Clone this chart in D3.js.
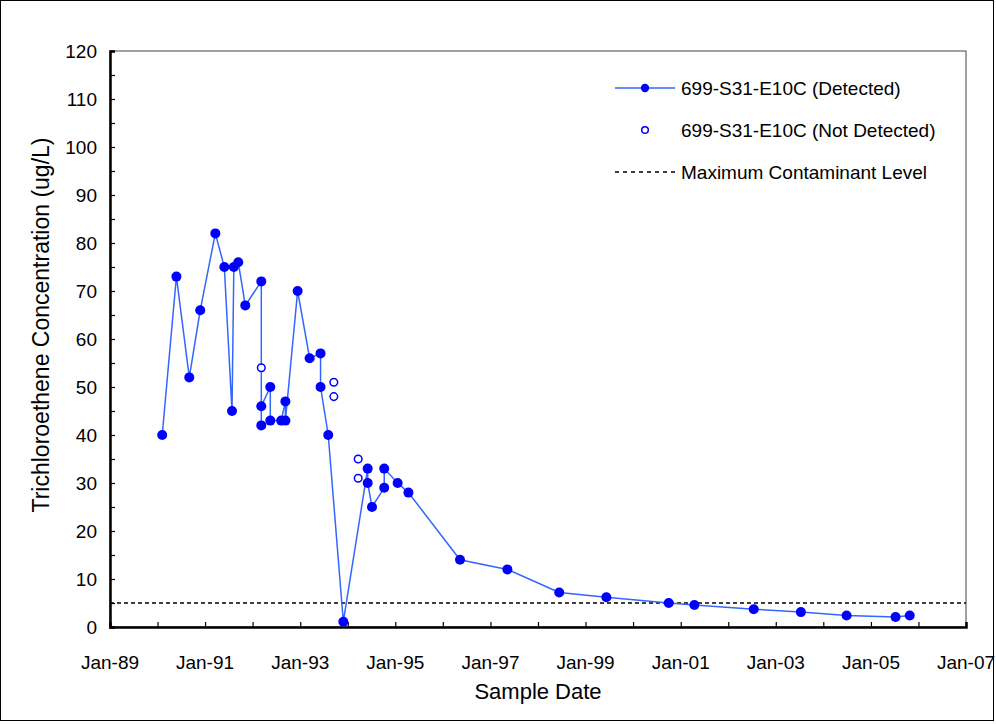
<!DOCTYPE html>
<html>
<head>
<meta charset="utf-8">
<script src="https://cdn.jsdelivr.net/npm/d3@7"></script>
<style>
  body { margin: 0; background: #fff; }
  text { font-family: "Liberation Sans", Arial, sans-serif; fill: #000; }
</style>
</head>
<body>
<div id="chart"></div>
<script>
// detected samples (line + filled markers)
var detectedDates = ["1990-02-06","1990-05-26","1990-09-02","1990-11-25","1991-03-21","1991-05-29",
  "1991-07-27","1991-08-10","1991-09-13","1991-11-06","1992-03-08","1992-03-08","1992-03-08",
  "1992-05-16","1992-05-16","1992-08-08","1992-09-09","1992-09-09","1992-12-12","1993-03-14",
  "1993-06-06","1993-06-06","1993-08-04","1993-11-28","1994-06-03","1994-06-03","1994-07-06",
  "1994-10-08","1994-10-08","1995-01-19","1995-04-12","1996-05-12","1997-05-11","1998-06-13",
  "1999-06-10","2000-10-01","2001-04-16","2002-07-16","2003-07-13","2004-06-28","2005-07-09",
  "2005-10-26"];
var detectedValues = [40, 73, 52, 66, 82, 75, 45, 75, 76, 67, 72, 42, 46, 50, 43, 43, 47, 43, 70, 56,
  57, 50, 40, 1.1, 33, 30, 25, 29, 33, 30, 28, 14, 12, 7.2, 6.2, 5, 4.6, 3.7, 3.1, 2.4, 2.1, 2.4];

// not detected samples (open markers)
var ndDates = ["1992-03-08","1993-09-16","1993-09-16","1994-03-22","1994-03-22"];
var ndValues = [54, 51, 48, 35, 31];

var mcl = 5;
var yTicks = [0, 10, 20, 30, 40, 50, 60, 70, 80, 90, 100, 110, 120];
var xLabelYears = [1989, 1991, 1993, 1995, 1997, 1999, 2001, 2003, 2005, 2007];
var legendLabels = ["699-S31-E10C (Detected)", "699-S31-E10C (Not Detected)", "Maximum Contaminant Level"];

var width = 996, height = 725;
var parse = d3.timeParse("%Y-%m-%d");

var detected = detectedDates.map(function (d, i) { return { date: parse(d), value: detectedValues[i] }; });
var notDetected = ndDates.map(function (d, i) { return { date: parse(d), value: ndValues[i] }; });

var x = d3.scaleTime()
  .domain([new Date(1989, 0, 1), new Date(2007, 0, 1)])
  .range([110, 966]);
var y = d3.scaleLinear()
  .domain([0, 120])
  .range([627, 51]);

var svg = d3.select('#chart').append('svg')
  .attr('width', width)
  .attr('height', height);

// outer border of the picture
svg.append('rect')
  .attr('x', 0.5).attr('y', 0.5)
  .attr('width', width - 3).attr('height', height - 5)
  .attr('fill', '#fff')
  .attr('stroke', '#000');

// plot frame
svg.append('rect')
  .attr('x', x.range()[0]).attr('y', y(120))
  .attr('width', x.range()[1] - x.range()[0]).attr('height', y(0) - y(120))
  .attr('fill', 'none')
  .attr('stroke', '#444')
  .attr('stroke-width', 1);

// y axis, ticks every 5 pointing inwards
var yAxis = d3.axisRight(y).tickValues(d3.range(0, 121, 5)).tickSize(5).tickFormat('');
svg.append('g')
  .attr('transform', 'translate(' + x.range()[0] + ',0)')
  .call(yAxis)
  .call(function (g) { g.select('.domain').attr('stroke-width', 2.5); })
  .selectAll('.tick line').attr('stroke-width', 1.2);

svg.append('g').selectAll('text')
  .data(yTicks)
  .enter()
  .append('text')
  .attr('x', 97)
  .attr('y', function (d) { return y(d); })
  .attr('dy', '0.36em')
  .attr('text-anchor', 'end')
  .style('font-size', '19px')
  .text(function (d) { return d; });

// x axis, yearly ticks pointing inwards, labels every 2 years
var xAxis = d3.axisTop(x).ticks(d3.timeYear.every(1)).tickSize(5).tickFormat('');
svg.append('g')
  .attr('transform', 'translate(0,' + y(0) + ')')
  .call(xAxis)
  .call(function (g) { g.select('.domain').attr('stroke-width', 2.5); })
  .selectAll('.tick line').attr('stroke-width', 1.2);

var fmt = d3.timeFormat('%b-%y');
svg.append('g').selectAll('text')
  .data(xLabelYears.map(function (yr) { return new Date(yr, 0, 1); }))
  .enter()
  .append('text')
  .attr('x', function (d) { return x(d); })
  .attr('y', 669)
  .attr('text-anchor', 'middle')
  .style('font-size', '19px')
  .text(function (d) { return fmt(d); });

// axis titles
svg.append('text')
  .attr('x', 538).attr('y', 699)
  .attr('text-anchor', 'middle')
  .style('font-size', '22px')
  .text('Sample Date');

svg.append('text')
  .attr('transform', 'translate(49,' + 325 + ') rotate(-90)')
  .attr('text-anchor', 'middle')
  .style('font-size', '23px')
  .text('Trichloroethene Concentration (ug/L)');

// MCL
svg.append('line')
  .attr('x1', x.range()[0]).attr('x2', x.range()[1])
  .attr('y1', y(mcl)).attr('y2', y(mcl))
  .attr('stroke', '#000')
  .attr('stroke-width', 1.5)
  .attr('stroke-dasharray', '4,3');

// detected series
var line = d3.line()
  .x(function (d) { return x(d.date); })
  .y(function (d) { return y(d.value); });

svg.append('path')
  .datum(detected)
  .attr('d', line)
  .attr('fill', 'none')
  .attr('stroke', '#3366FF')
  .attr('stroke-width', 1.5);

svg.append('g').selectAll('circle')
  .data(detected)
  .enter()
  .append('circle')
  .attr('cx', function (d) { return x(d.date); })
  .attr('cy', function (d) { return y(d.value); })
  .attr('r', 5)
  .attr('fill', '#0000FF');

svg.append('g').selectAll('circle')
  .data(notDetected)
  .enter()
  .append('circle')
  .attr('cx', function (d) { return x(d.date); })
  .attr('cy', function (d) { return y(d.value); })
  .attr('r', 3.8)
  .attr('fill', '#fff')
  .attr('stroke', '#0000FF')
  .attr('stroke-width', 1.5);

// legend
var legend = svg.append('g').attr('transform', 'translate(615,88)');
var legendSpacing = 42;

legend.append('line')
  .attr('x1', 0).attr('x2', 60).attr('y1', 0).attr('y2', 0)
  .attr('stroke', '#3366FF').attr('stroke-width', 1.5);
legend.append('circle')
  .attr('cx', 30).attr('cy', 0).attr('r', 4.2)
  .attr('fill', '#0000FF');

legend.append('circle')
  .attr('cx', 30).attr('cy', legendSpacing).attr('r', 3.3)
  .attr('fill', '#fff').attr('stroke', '#0000FF').attr('stroke-width', 1.5);

legend.append('line')
  .attr('x1', 0).attr('x2', 60).attr('y1', legendSpacing * 2).attr('y2', legendSpacing * 2)
  .attr('stroke', '#000').attr('stroke-width', 1.5)
  .attr('stroke-dasharray', '4,4');

legend.selectAll('.legend-text')
  .data(legendLabels)
  .enter()
  .append('text')
  .attr('class', 'legend-text')
  .attr('x', 66)
  .attr('y', function (d, i) { return i * legendSpacing; })
  .attr('dy', '0.36em')
  .style('font-size', '19px')
  .text(function (d) { return d; });
</script>
</body>
</html>
